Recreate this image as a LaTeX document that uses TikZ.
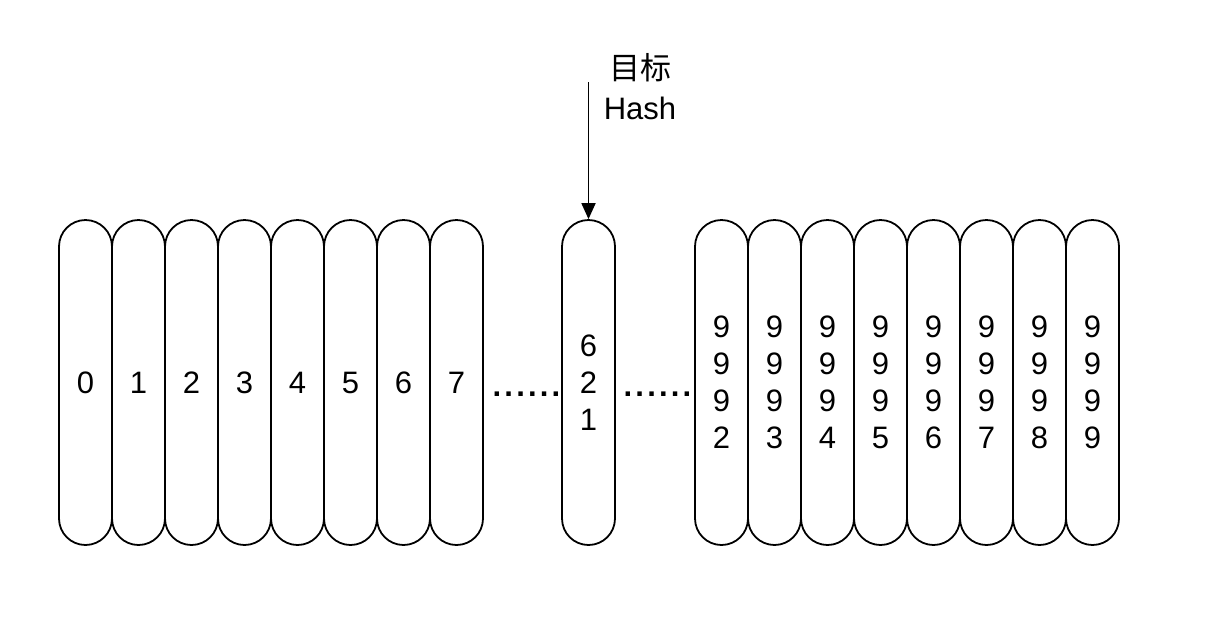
\documentclass[tikz,border=0pt]{standalone}
\usepackage{fontspec}
\setmainfont{Liberation Sans}
\newfontfamily\cjk{Noto Sans CJK SC}
\usetikzlibrary{arrows.meta}
\newcommand{\onedot}{\makebox[5.9pt]{.}}
\newcommand{\sixdots}{\onedot\onedot\onedot\onedot\onedot\onedot}
\begin{document}
\begin{tikzpicture}[x=0.5pt,y=-0.5pt,
  pill/.style={draw, line width=0.9pt, minimum width=26.5pt, minimum height=162.5pt,
    rounded corners=13.25pt, inner sep=0pt, align=center,
    font=\fontsize{15.5}{18.5}\selectfont},
  lbl/.style={align=center, inner sep=0pt, font=\fontsize{15.5}{20}\selectfont},
  dotsnode/.style={inner sep=0pt, anchor=base, font=\fontsize{15.5}{18}\selectfont\bfseries},
  arr/.style={line width=0.9pt, -{Triangle[length=8pt,width=7pt]}}]
\useasboundingbox (0,0) rectangle (1210,634);
% left group
\foreach \i in {0,...,7}{
  \node[pill] (l\i) at ({85.5+53*\i},382.5) {\i};
}
% middle
\node[pill] (m) at (588.5,382.5) {6\\2\\1};
% right group
\node[pill] (r2) at (721.5,382.5) {9\\9\\9\\2};
\node[pill] (r3) at (774.5,382.5) {9\\9\\9\\3};
\node[pill] (r4) at (827.5,382.5) {9\\9\\9\\4};
\node[pill] (r5) at (880.5,382.5) {9\\9\\9\\5};
\node[pill] (r6) at (933.5,382.5) {9\\9\\9\\6};
\node[pill] (r7) at (986.5,382.5) {9\\9\\9\\7};
\node[pill] (r8) at (1039.5,382.5) {9\\9\\9\\8};
\node[pill] (r9) at (1092.5,382.5) {9\\9\\9\\9};
% dots
\node[dotsnode] (d1) at (526.5,396) {\sixdots};
\node[dotsnode] (d2) at (657.5,396) {\sixdots};
% label and arrow
\node[lbl] (t) at (640,87) {{\cjk 目标}\\Hash};
\coordinate (astart) at (588.5,82);
\draw[arr] (astart) -- (m.north);
\end{tikzpicture}
\end{document}
